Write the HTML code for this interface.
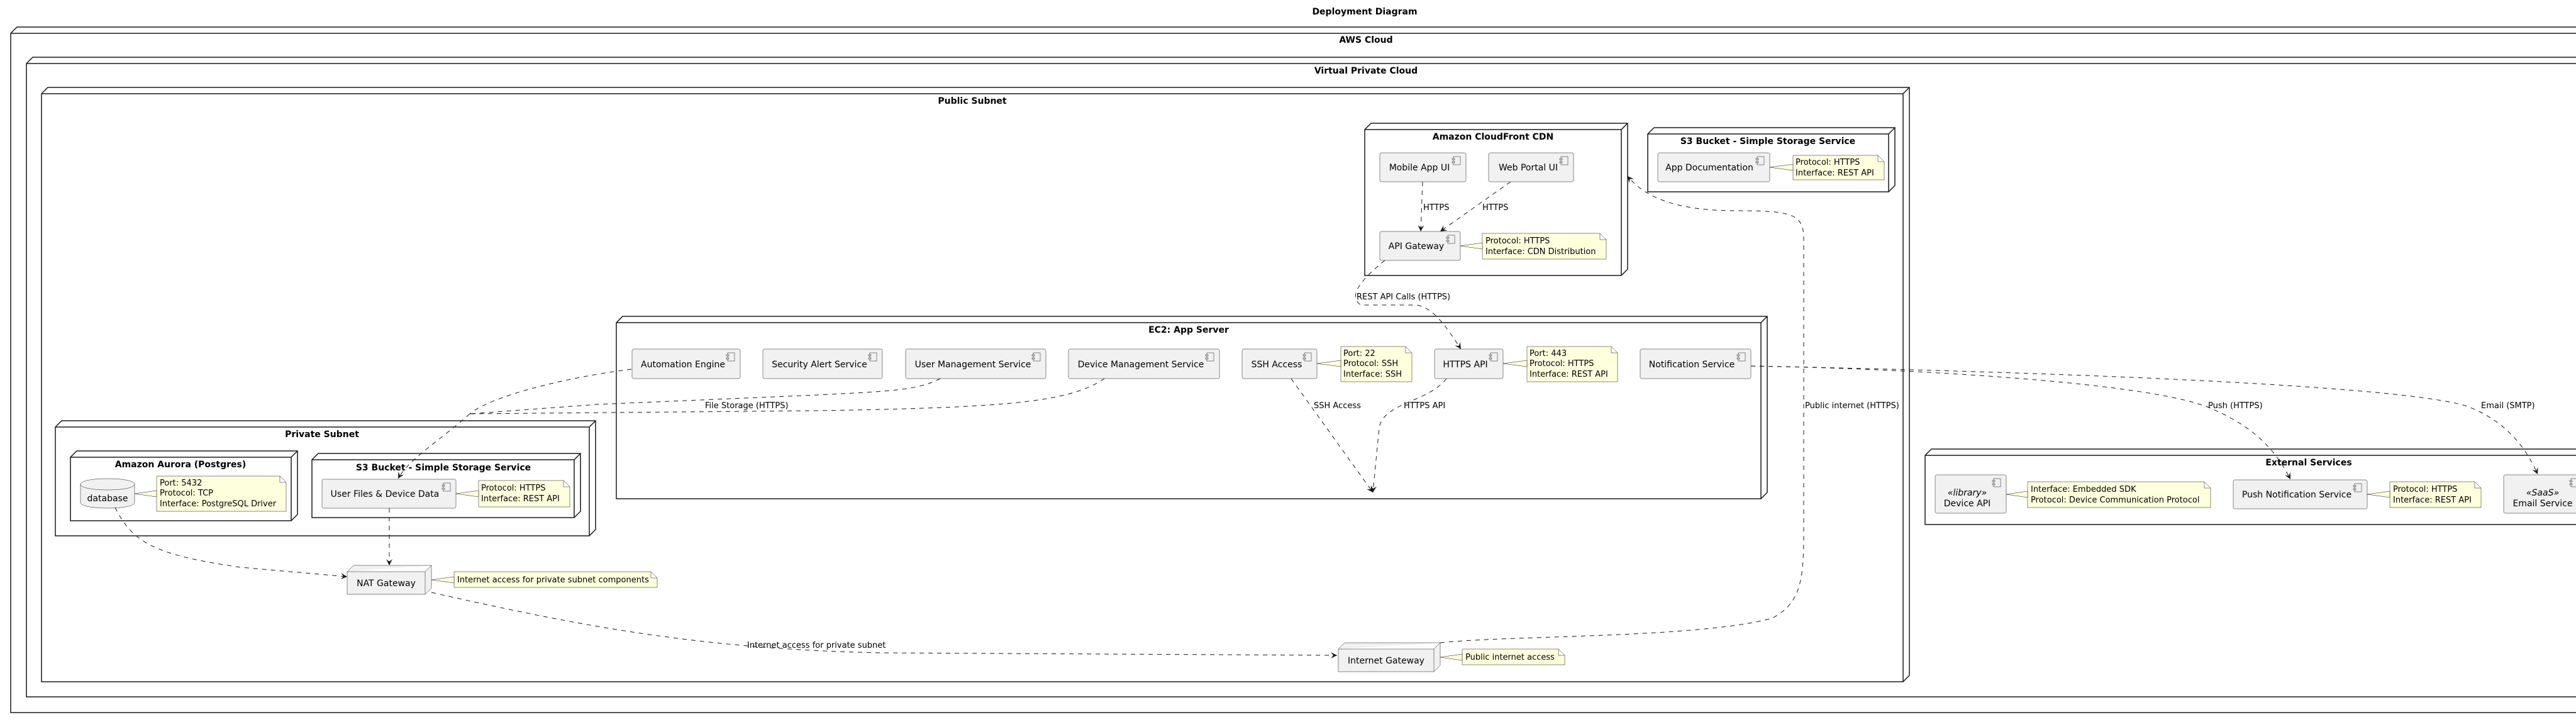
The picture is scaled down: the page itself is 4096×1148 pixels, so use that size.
<!DOCTYPE html>
<html><head><meta charset="utf-8"><style>
html,body{margin:0;padding:0;background:#fff}
svg{display:block}
text{font-family:"DejaVu Sans","Liberation Sans",sans-serif;fill:#000}
.t{font-weight:bold;font-size:14px;text-anchor:middle}
.c{font-size:14px;text-anchor:middle}
.n{font-size:13px}
.l{font-size:13px}
.fr{fill:none;stroke:#181818;stroke-width:1.5}
.cp{fill:#F1F1F1;stroke:#181818;stroke-width:0.5}
.nt{fill:#FEFFDD;stroke:#181818;stroke-width:0.5}
.e{fill:none;stroke:#181818;stroke-width:1;stroke-dasharray:7,7}
</style></head><body>
<svg width="4096" height="1148" viewBox="0 0 4096 1148" xmlns="http://www.w3.org/2000/svg">
<defs>
<marker id="a" viewBox="0 0 10 10" refX="10" refY="5" markerWidth="10" markerHeight="10" markerUnits="userSpaceOnUse" orient="auto">
<path d="M0,0 L10,5 L0,10 L4,5 Z" fill="#181818"/></marker>
<g id="ic"><rect x="0" y="0" width="11" height="13" fill="#F1F1F1" stroke="#181818" stroke-width="0.5"/><rect x="-2" y="3" width="4" height="2" fill="#F1F1F1" stroke="#181818" stroke-width="0.5"/><rect x="-2" y="8" width="4" height="2" fill="#F1F1F1" stroke="#181818" stroke-width="0.5"/></g>
</defs>

<text x="2170" y="23" class="t">Deployment Diagram</text>

<!-- AWS Cloud -->
<path class="fr" d="M17,53 L27,43 L4330,43 M17,53 L4330,53 M17,53 L17,1133 L4330,1133"/>
<text x="2172" y="68" class="t">AWS Cloud</text>
<!-- VPC -->
<path class="fr" d="M42,101 L52,91 L4310,91 M42,101 L4310,101 M42,101 L42,1108 L4310,1108"/>
<text x="2172" y="117" class="t">Virtual Private Cloud</text>
<!-- Public Subnet -->
<path class="fr" d="M66,149 L76,139 L3036,139 L3036,1074 L3026,1084 L66,1084 Z M66,149 L3026,149 L3036,139 M3026,149 L3026,1084"/>
<text x="1546" y="165" class="t">Public Subnet</text>

<!-- CloudFront -->
<path class="fr" d="M2170,206 L2180,196 L2588,196 L2588,428 L2578,438 L2170,438 Z M2170,206 L2578,206 L2588,196 M2578,206 L2578,438"/>
<text x="2374" y="222" class="t">Amazon CloudFront CDN</text>
<!-- S3 top -->
<path class="fr" d="M2620,213 L2630,203 L3013,203 L3013,295 L3003,305 L2620,305 Z M2620,213 L3003,213 L3013,203 M3003,213 L3003,305"/>
<text x="2811" y="229" class="t">S3 Bucket - Simple Storage Service</text>
<!-- EC2 -->
<path class="fr" d="M980,513 L990,503 L2810,503 L2810,783 L2800,793 L980,793 Z M980,513 L2800,513 L2810,503 M2800,513 L2800,793"/>
<text x="1890" y="529" class="t">EC2: App Server</text>
<!-- Private subnet -->
<path class="fr" d="M88,679 L98,669 L947,669 L947,842 L937,852 L88,852 Z M88,679 L937,679 L947,669 M937,679 L937,852"/>
<text x="512" y="695" class="t">Private Subnet</text>
<!-- Aurora -->
<path class="fr" d="M112,727 L122,717 L473,717 L473,818 L463,828 L112,828 Z M112,727 L463,727 L473,717 M463,727 L463,828"/>
<text x="287" y="743" class="t">Amazon Aurora (Postgres)</text>
<!-- S3 private -->
<path class="fr" d="M496,731 L506,721 L923,721 L923,813 L913,823 L496,823 Z M496,731 L913,731 L923,721 M913,731 L913,823"/>
<text x="705" y="748" class="t">S3 Bucket - Simple Storage Service</text>
<!-- External -->
<path class="fr" d="M3061,724 L3071,714 L4200,714 M3061,724 L4200,724 M3061,724 L3061,834 L4200,834" stroke-width="1"/>
<text x="3671" y="740" class="t">External Services</text>

<!-- NAT gateway node -->
<path class="cp" d="M552,909 L562,899 L686,899 L686,935 L676,945 L552,945 Z M552,909 L676,909 L686,899 M676,909 L676,945"/>
<text x="614" y="932" class="c">NAT Gateway</text>
<!-- Internet gateway -->
<path class="cp" d="M2128,1032 L2138,1022 L2290,1022 L2290,1058 L2280,1068 L2128,1068 Z M2128,1032 L2280,1032 L2290,1022 M2280,1032 L2280,1068"/>
<text x="2204" y="1055" class="c">Internet Gateway</text>

<!-- Components -->
<g>
<rect class="cp" x="2194" y="243" width="137" height="46" rx="2.5"/><use href="#ic" x="2311" y="249"/><text x="2257" y="271" class="c">Mobile App UI</text>
<rect class="cp" x="2367" y="243" width="135" height="46" rx="2.5"/><use href="#ic" x="2482" y="249"/><text x="2430" y="271" class="c">Web Portal UI</text>
<rect class="cp" x="2194" y="368" width="128" height="46" rx="2.5"/><use href="#ic" x="2302" y="374"/><text x="2252" y="396" class="c">API Gateway</text>
<rect class="cp" x="2636" y="243" width="178" height="46" rx="2.5"/><use href="#ic" x="2794" y="249"/><text x="2718" y="271" class="c">App Documentation</text>

<rect class="cp" x="1005" y="555" width="172" height="47" rx="2.5"/><use href="#ic" x="1157" y="561"/><text x="1086" y="584" class="c">Automation Engine</text>
<rect class="cp" x="1213" y="555" width="190" height="47" rx="2.5"/><use href="#ic" x="1383" y="561"/><text x="1303" y="584" class="c">Security Alert Service</text>
<rect class="cp" x="1440" y="555" width="223" height="47" rx="2.5"/><use href="#ic" x="1643" y="561"/><text x="1547" y="584" class="c">User Management Service</text>
<rect class="cp" x="1699" y="555" width="240" height="47" rx="2.5"/><use href="#ic" x="1919" y="561"/><text x="1814" y="584" class="c">Device Management Service</text>
<rect class="cp" x="1975" y="555" width="119" height="47" rx="2.5"/><use href="#ic" x="2074" y="561"/><text x="2030" y="584" class="c">SSH Access</text>
<rect class="cp" x="2281" y="555" width="109" height="47" rx="2.5"/><use href="#ic" x="2370" y="561"/><text x="2330" y="584" class="c">HTTPS API</text>
<rect class="cp" x="2608" y="555" width="176" height="47" rx="2.5"/><use href="#ic" x="2764" y="561"/><text x="2690" y="584" class="c">Notification Service</text>

<rect class="cp" x="512" y="762" width="213" height="46" rx="2.5"/><use href="#ic" x="705" y="768"/><text x="612" y="790" class="c">User Files &amp; Device Data</text>

<rect class="cp" x="3077" y="755" width="113" height="61" rx="2.5"/><use href="#ic" x="3170" y="761"/><text x="3128" y="788" class="c" font-style="italic">«library»</text><text x="3128" y="805" class="c">Device API</text>
<rect class="cp" x="3551" y="763" width="213" height="46" rx="2.5"/><use href="#ic" x="3744" y="769"/><text x="3652" y="791" class="c">Push Notification Service</text>
<rect class="cp" x="3981" y="755" width="140" height="61" rx="2.5"/><use href="#ic" x="4088" y="761"/><text x="4043" y="788" class="c" font-style="italic">«SaaS»</text><text x="4043" y="805" class="c">Email Service</text>
</g>

<!-- database -->
<path class="cp" d="M128,770 C128,758 214,758 214,770 L214,799 C214,811 128,811 128,799 Z"/>
<path d="M128,770 C128,782 214,782 214,770" fill="none" stroke="#181818" stroke-width="0.5"/>
<text x="171" y="797" class="c">database</text>

<!-- Notes -->
<g>
<path class="nt" d="M2357,371 L2544,371 L2554,381 L2554,412 L2357,412 Z M2544,371 L2544,381 L2554,381"/>
<path class="nt" d="M2322,391 L2357,386 L2357,396 Z"/>
<text class="n" x="2362" y="387">Protocol: HTTPS</text><text class="n" x="2362" y="404">Interface: CDN Distribution</text>

<path class="nt" d="M2851,247 L2986,247 L2996,257 L2996,286 L2851,286 Z M2986,247 L2986,257 L2996,257"/>
<path class="nt" d="M2814,266 L2851,261 L2851,271 Z"/>
<text class="n" x="2855" y="262">Protocol: HTTPS</text><text class="n" x="2855" y="279">Interface: REST API</text>

<path class="nt" d="M2132,551 L2235,551 L2245,561 L2245,607 L2132,607 Z M2235,551 L2235,561 L2245,561"/>
<path class="nt" d="M2094,578 L2132,573 L2132,583 Z"/>
<text class="n" x="2136" y="566">Port: 22</text><text class="n" x="2136" y="582">Protocol: SSH</text><text class="n" x="2136" y="599">Interface: SSH</text>

<path class="nt" d="M2428,551 L2562,551 L2572,561 L2572,607 L2428,607 Z M2562,551 L2562,561 L2572,561"/>
<path class="nt" d="M2390,578 L2428,573 L2428,583 Z"/>
<text class="n" x="2432" y="566">Port: 443</text><text class="n" x="2432" y="582">Protocol: HTTPS</text><text class="n" x="2432" y="599">Interface: REST API</text>

<path class="nt" d="M249,757 L445,757 L455,767 L455,813 L249,813 Z M445,757 L445,767 L455,767"/>
<path class="nt" d="M214,785 L249,780 L249,790 Z"/>
<text class="n" x="254" y="772">Port: 5432</text><text class="n" x="254" y="788">Protocol: TCP</text><text class="n" x="254" y="805">Interface: PostgreSQL Driver</text>

<path class="nt" d="M761,764 L896,764 L906,774 L906,806 L761,806 Z M896,764 L896,774 L906,774"/>
<path class="nt" d="M725,785 L761,780 L761,790 Z"/>
<text class="n" x="765" y="780">Protocol: HTTPS</text><text class="n" x="765" y="797">Interface: REST API</text>

<path class="nt" d="M722,909 L1035,909 L1045,919 L1045,934 L722,934 Z M1035,909 L1035,919 L1045,919"/>
<path class="nt" d="M686,922 L722,917 L722,927 Z"/>
<text class="n" x="727" y="926">Internet access for private subnet components</text>

<path class="nt" d="M2325,1032 L2478,1032 L2488,1042 L2488,1057 L2325,1057 Z M2478,1032 L2478,1042 L2488,1042"/>
<path class="nt" d="M2290,1045 L2325,1040 L2325,1050 Z"/>
<text class="n" x="2330" y="1049">Public internet access</text>

<path class="nt" d="M3224,766 L3505,766 L3515,776 L3515,807 L3224,807 Z M3505,766 L3505,776 L3515,776"/>
<path class="nt" d="M3190,786 L3224,781 L3224,791 Z"/>
<text class="n" x="3229" y="782">Interface: Embedded SDK</text><text class="n" x="3229" y="799">Protocol: Device Communication Protocol</text>

<path class="nt" d="M3800,766 L3935,766 L3945,776 L3945,807 L3800,807 Z M3935,766 L3935,776 L3945,776"/>
<path class="nt" d="M3764,786 L3800,781 L3800,791 Z"/>
<text class="n" x="3805" y="782">Protocol: HTTPS</text><text class="n" x="3805" y="799">Interface: REST API</text>
</g>

<!-- Edges -->
<g>
<path class="e" marker-end="url(#a)" d="M2262,289 L2259,368"/>
<text class="l" x="2263" y="334">HTTPS</text>
<path class="e" marker-end="url(#a)" d="M2402,289 L2290,368"/>
<text class="l" x="2357" y="334">HTTPS</text>

<path class="e" marker-end="url(#a)" d="M2202,414 C2170,440 2140,470 2164,485 L2253,485 C2280,490 2300,520 2323,555"/>
<text class="l" x="2157" y="476">REST API Calls (HTTPS)</text>

<path class="e" marker-end="url(#a)" d="M2053,602 L2183,783"/>
<text class="l" x="2089" y="649">SSH Access</text>
<path class="e" marker-end="url(#a)" d="M2300,602 C2270,640 2200,640 2193,680 L2183,783"/>
<text class="l" x="2232" y="649">HTTPS API</text>

<path class="e" marker-end="url(#a)" d="M2784,582 C3000,585 3400,605 3510,647 C3590,680 3620,720 3642,762"/>
<text class="l" x="3511" y="649">Push (HTTPS)</text>
<path class="e" marker-end="url(#a)" d="M2784,582 C3200,590 3800,610 3920,645 C3990,670 4020,720 4035,754"/>
<text class="l" x="3945" y="649">Email (SMTP)</text>

<path class="e" d="M1004,587 C900,600 780,630 747,658"/>
<path class="e" d="M1495,602 C1460,620 1420,622 1300,628 L950,643 L747,658"/>
<path class="e" d="M1756,602 C1700,640 1600,648 1300,653 L747,658"/>
<path class="e" marker-end="url(#a)" d="M747,658 C700,700 650,730 633,761"/>
<text class="l" x="1121" y="649">File Storage (HTTPS)</text>

<path class="e" marker-end="url(#a)" d="M619,808 L619,899"/>
<path class="e" marker-end="url(#a)" d="M183,807 C210,860 240,882 383,902 L552,917"/>

<path class="e" marker-end="url(#a)" d="M686,942 C900,990 1100,1032 1400,1038 L2126,1042"/>
<text class="l" x="1188" y="1030">Internet access for private subnet</text>

<path class="e" marker-end="url(#a)" d="M2290,1022 C2400,1010 2700,1015 2818,983 C2860,960 2868,930 2868,850 L2868,380 C2868,340 2850,335 2760,335 C2680,335 2620,320 2588,280"/>
<text class="l" x="2870" y="649">Public internet (HTTPS)</text>
</g>
</svg>
</body></html>
